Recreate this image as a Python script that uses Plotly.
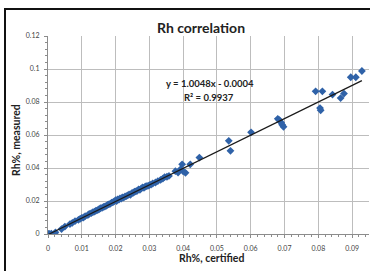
import plotly.graph_objects as go

# ---- data ----
x_cert = [0.0000, 0.0002, 0.0005, 0.0010, 0.0020, 0.0022, 0.0040, 0.0050, 0.0065, 0.0072,
          0.0080, 0.0090, 0.0095, 0.0100, 0.0105, 0.0110, 0.0118, 0.0122, 0.0128, 0.0133,
          0.0138, 0.0142, 0.0147, 0.0151, 0.0155, 0.0160, 0.0164, 0.0168, 0.0172, 0.0176,
          0.0180, 0.0184, 0.0188, 0.0192, 0.0196, 0.0200, 0.0203, 0.0206, 0.0210, 0.0213,
          0.0217, 0.0220, 0.0224, 0.0228, 0.0232, 0.0236, 0.0240, 0.0244, 0.0248, 0.0252,
          0.0256, 0.0260, 0.0264, 0.0268, 0.0272, 0.0276, 0.0280, 0.0284, 0.0288, 0.0292,
          0.0296, 0.0300, 0.0305, 0.0310, 0.0318, 0.0325, 0.0333, 0.0340, 0.0345, 0.0352,
          0.0358, 0.0377, 0.0385, 0.0392, 0.0397, 0.0400, 0.0407, 0.0421, 0.0448,
          0.0535, 0.0540, 0.0601, 0.0680, 0.0685, 0.0690, 0.0693, 0.0697,
          0.0792, 0.0805, 0.0807, 0.0812, 0.0842, 0.0866, 0.0876, 0.0896, 0.0911, 0.0929]
y_meas = [0.0000, 0.0000, 0.0000, 0.0002, 0.0000, 0.0010, 0.0030, 0.0045, 0.0060, 0.0068,
          0.0078, 0.0086, 0.0092, 0.0098, 0.0100, 0.0108, 0.0115, 0.0122, 0.0126, 0.0132,
          0.0136, 0.0142, 0.0145, 0.0150, 0.0156, 0.0158, 0.0164, 0.0166, 0.0170, 0.0176,
          0.0180, 0.0183, 0.0190, 0.0192, 0.0198, 0.0205, 0.0200, 0.0210, 0.0208, 0.0216,
          0.0214, 0.0222, 0.0220, 0.0228, 0.0230, 0.0234, 0.0240, 0.0238, 0.0248, 0.0250,
          0.0256, 0.0258, 0.0262, 0.0270, 0.0268, 0.0276, 0.0282, 0.0280, 0.0288, 0.0290,
          0.0292, 0.0296, 0.0300, 0.0306, 0.0312, 0.0320, 0.0328, 0.0336, 0.0345, 0.0347,
          0.0352, 0.0381, 0.0372, 0.0392, 0.0422, 0.0380, 0.0371, 0.0422, 0.0463,
          0.0565, 0.0504, 0.0616, 0.0698, 0.0690, 0.0675, 0.0662, 0.0650,
          0.0865, 0.0763, 0.0750, 0.0865, 0.0845, 0.0824, 0.0851, 0.0950, 0.0950, 0.0988]

slope = 1.0048
intercept = -0.0004
eq_text = "y = 1.0048x - 0.0004"
r2_text = "R² = 0.9937"

x_ticks = [0, 0.01, 0.02, 0.03, 0.04, 0.05, 0.06, 0.07, 0.08, 0.09]
x_tick_labels = ["0", "0.01", "0.02", "0.03", "0.04", "0.05", "0.06", "0.07", "0.08", "0.09"]
y_ticks = [0, 0.02, 0.04, 0.06, 0.08, 0.1, 0.12]
y_tick_labels = ["0", "0.02", "0.04", "0.06", "0.08", "0.1", "0.12"]

# ---- figure ----
W, H = 370, 271
L, R, T, B = 48, 1, 36, 37
pw, ph = W - L - R, H - T - B

def px_x(p):
    return (p - L) / pw

def px_y(p):
    return (H - B - p) / ph

font = "Lato, Open Sans, sans-serif"

fig = go.Figure()

line_x = [min(x_cert), max(x_cert)]
line_y = [slope * v + intercept for v in line_x]

fig.add_trace(go.Scatter(
    x=x_cert, y=y_meas, mode="markers",
    marker=dict(symbol="diamond", size=6, color="#2f62a8", line=dict(width=0)),
    showlegend=False))

fig.add_trace(go.Scatter(
    x=line_x, y=line_y, mode="lines",
    line=dict(color="#1a1a1a", width=1.2),
    showlegend=False))

axis_common = dict(
    showgrid=True, gridcolor="#bdbdbd", gridwidth=1.3,
    showline=True, linecolor="#8c8c8c", linewidth=1,
    zeroline=False,
    ticks="outside", ticklen=3, tickcolor="#8c8c8c",
    tickfont=dict(family=font, size=7, color="#444444"),
)

def ann(text, x, y, size, angle=0):
    return dict(text=text, xref="paper", yref="paper", x=px_x(x), y=px_y(y),
                xanchor="center", yanchor="middle", showarrow=False, textangle=angle,
                font=dict(family=font, size=size, color="#222222"))

fig.update_layout(
    width=W, height=H,
    margin=dict(l=L, r=R, t=T, b=B),
    paper_bgcolor="white", plot_bgcolor="white",
    xaxis=dict(range=[0, 0.095], tickvals=x_ticks, ticktext=x_tick_labels,
               ticklabelstandoff=5,
               minor=dict(dtick=0.002, ticks="outside", ticklen=2, tickcolor="#8c8c8c", showgrid=False),
               **axis_common),
    yaxis=dict(range=[0, 0.12], tickvals=y_ticks, ticktext=y_tick_labels,
               ticklabelstandoff=3,
               minor=dict(dtick=0.004, ticks="outside", ticklen=2, tickcolor="#8c8c8c", showgrid=False),
               **axis_common),
    annotations=[
        ann("<b>Rh correlation</b>", 201, 28, 14),
        ann("<b>Rh%, certified</b>", 212, 258, 10.5),
        ann("<b>Rh%, measured</b>", 16, 140, 10.5, -90),
        ann("<b>" + eq_text + "</b>", 210, 83, 9.5),
        ann("<b>" + r2_text + "</b>", 209, 97, 9.5),
    ],
    shapes=[
        dict(type="rect", xref="paper", yref="paper",
             x0=px_x(5), y0=px_y(290), x1=px_x(390), y1=px_y(9),
             line=dict(color="#111111", width=2), fillcolor="rgba(0,0,0,0)"),
    ],
)

fig.write_html("out.html", config={"displayModeBar": False},
               post_script="document.body.style.margin='0';document.body.style.overflow='hidden';")
